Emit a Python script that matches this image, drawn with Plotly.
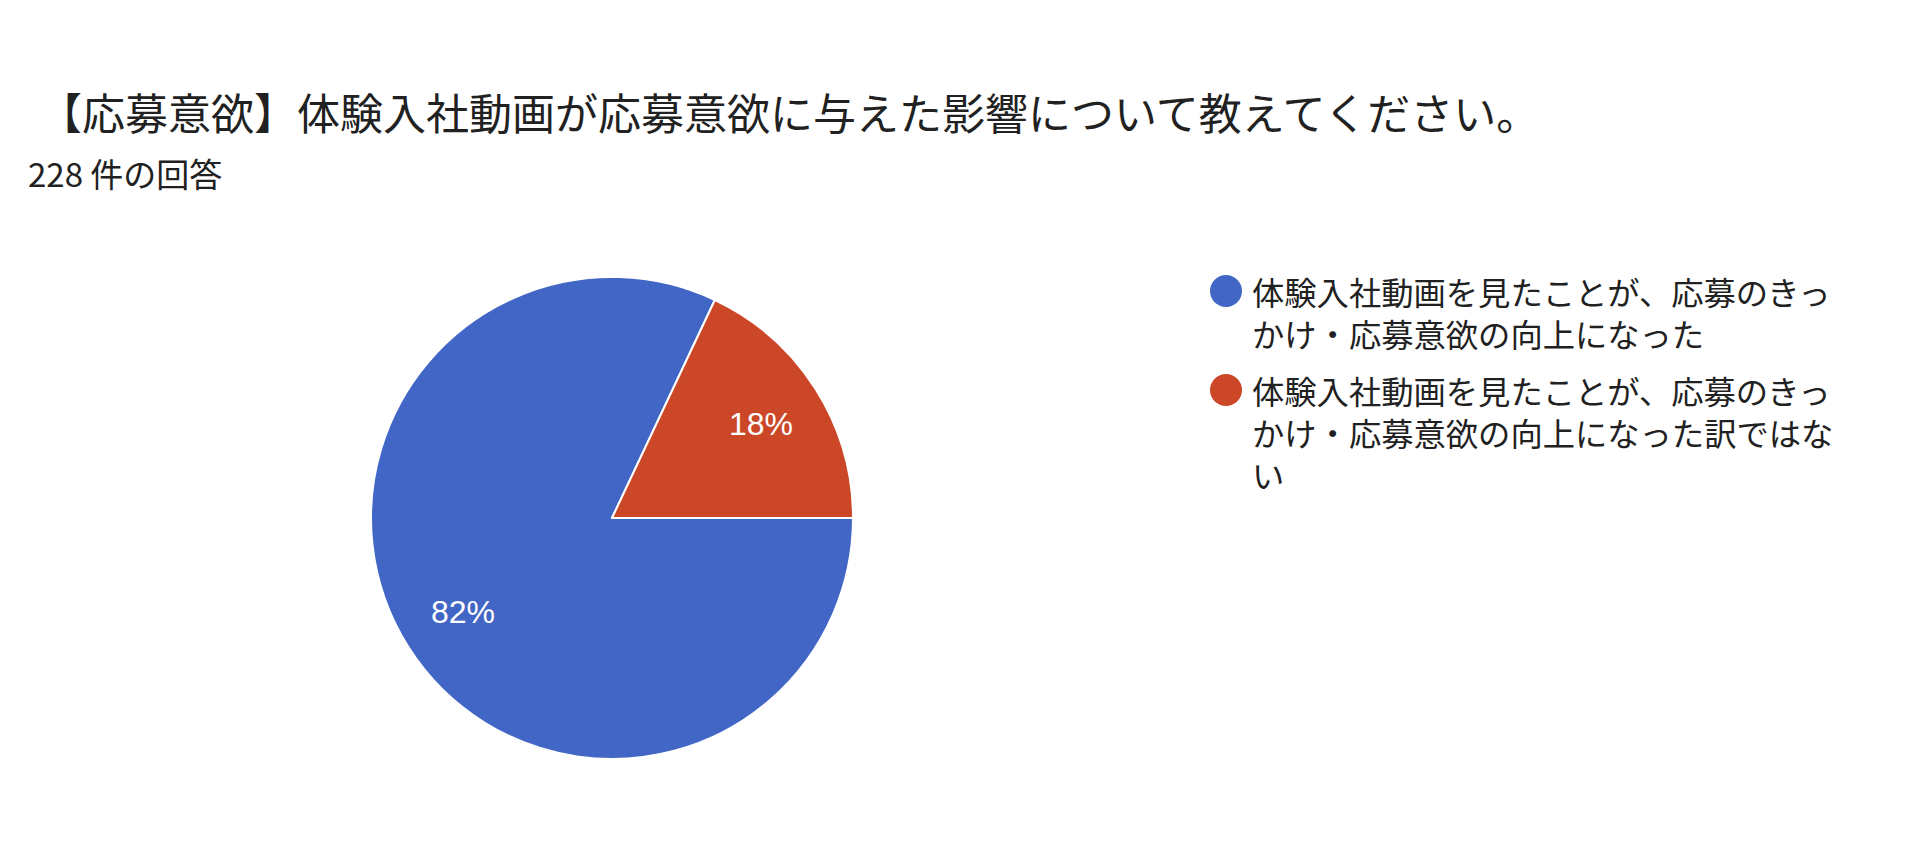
import math
import plotly.graph_objects as go

# survey answers (228 responses)
categories = [
    "体験入社動画を見たことが、応募のきっかけ・応募意欲の向上になった",
    "体験入社動画を見たことが、応募のきっかけ・応募意欲の向上になった訳ではない",
]
counts = [187, 41]
colors = ["#4166c5", "#cb4727"]

title_text = "【応募意欲】体験入社動画が応募意欲に与えた影響について教えてください。"
subtitle_text = "228 件の回答"

# the page body has an 8px margin, so the figure is a bit smaller than the window
OFF = 8
W, H = 1908 - 2 * OFF, 852 - 2 * OFF
JP_FONT = "Noto Sans CJK JP, Noto Sans, sans-serif"
TEXT_COLOR = "#212121"

# pie geometry in page pixels
CX, CY, R = 612, 518, 241
LEGEND_FONT = 32.3


def wrap(text, n=18):
    # split long legend labels into fixed-width lines
    return [text[i:i + n] for i in range(0, len(text), n)]


def px_x(x):
    return (x - OFF) / W


def px_y(y):
    return 1 - (y - OFF) / H


fig = go.Figure()

fig.add_trace(go.Pie(
    labels=categories,
    values=counts,
    sort=False,
    direction="clockwise",
    rotation=90,
    marker=dict(colors=colors, line=dict(color="white", width=2)),
    textinfo="none",
    hoverinfo="label+percent",
    showlegend=False,
    domain=dict(x=[px_x(CX - R), px_x(CX + R)],
                y=[px_y(CY + R), px_y(CY - R)]),
))

annotations = []

# percentage labels placed along each slice's middle angle
total = sum(counts)
start = 0.0
for c in counts:
    frac = c / total
    mid = math.radians(start + frac * 360 / 2)
    start += frac * 360
    k = 0.73
    annotations.append(dict(
        text=f"{round(frac * 100)}%", xref="paper", yref="paper",
        x=px_x(CX + k * R * math.cos(mid)), y=px_y(CY + k * R * math.sin(mid)),
        xanchor="center", yanchor="middle", showarrow=False,
        font=dict(family="Liberation Sans, Arial, sans-serif", size=32, color="white"),
    ))

# custom legend with round markers and wrapped labels
shapes = []
first_line = [291, 390]
line_step = 1.3 * LEGEND_FONT
for label, color, y in zip(categories, colors, first_line):
    r = 16
    shapes.append(dict(
        type="circle", xref="paper", yref="paper",
        x0=px_x(1226 - r), x1=px_x(1226 + r),
        y0=px_y(y + r), y1=px_y(y - r),
        fillcolor=color, line=dict(width=0),
    ))
    lines = wrap(label)
    annotations.append(dict(
        text="<br>".join(lines), xref="paper", yref="paper",
        x=px_x(1251), y=px_y(y + (len(lines) - 1) * line_step / 2),
        xanchor="left", yanchor="middle", align="left",
        showarrow=False, borderpad=0,
        font=dict(family=JP_FONT, size=LEGEND_FONT, color=TEXT_COLOR),
    ))

annotations.append(dict(
    text=subtitle_text, xref="paper", yref="paper",
    x=px_x(26), y=px_y(173), xanchor="left", yanchor="middle",
    showarrow=False,
    font=dict(family=JP_FONT, size=33, color=TEXT_COLOR),
))

fig.update_layout(
    width=W,
    height=H,
    margin=dict(l=0, r=0, t=0, b=0),
    paper_bgcolor="white",
    plot_bgcolor="white",
    title=dict(
        text=title_text,
        x=px_x(39), xanchor="left", xref="paper",
        y=px_y(115), yanchor="middle", yref="container",
        font=dict(family=JP_FONT, size=43, color=TEXT_COLOR),
    ),
    shapes=shapes,
    annotations=annotations,
)

fig.write_html("out.html")
